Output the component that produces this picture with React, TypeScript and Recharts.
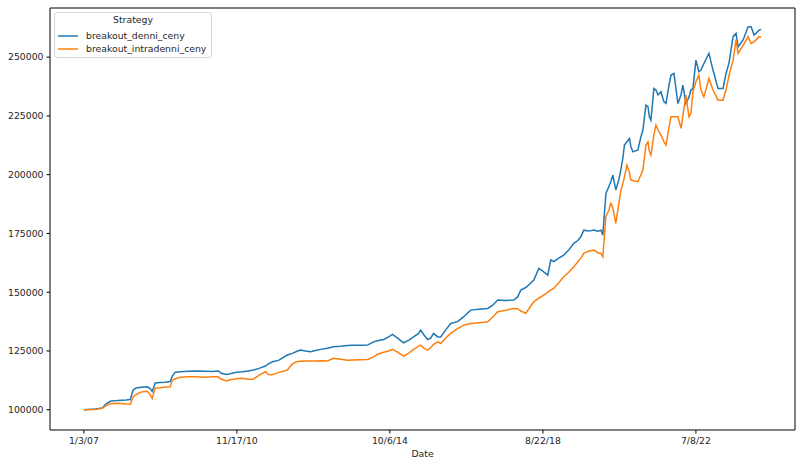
import React from "react";
import {
    LineChart,
    Line,
    XAxis,
    YAxis,
    ReferenceLine,
} from "recharts";

// trading-day index of each sampled row (row 0 = 1/3/07)
const dayIndex = [
    0, 72, 117, 142, 168, 219, 270, 296, 315, 334, 366, 404, 423, 436, 455, 487, 519, 551, 564, 583,
    615, 666, 711, 775, 819, 858, 877, 909, 934, 973, 1011, 1049, 1081, 1113, 1158, 1177, 1203, 1241, 1298, 1330,
    1356, 1381, 1413, 1445, 1477, 1509, 1554, 1592, 1637, 1682, 1714, 1765, 1809, 1848, 1873, 1912, 1944, 1969, 2001, 2039,
    2071, 2103, 2135, 2148, 2173, 2193, 2212, 2231, 2257, 2276, 2308, 2340, 2384, 2423, 2467, 2518, 2576, 2608, 2640, 2691,
    2742, 2767, 2787, 2819, 2844, 2870, 2902, 2927, 2959, 2978, 2997, 3029, 3061, 3093, 3125, 3151, 3170, 3189, 3221, 3253,
    3278, 3298, 3310, 3330, 3349, 3361, 3374, 3393, 3413, 3425, 3438, 3448, 3464, 3480, 3489, 3502, 3534, 3553, 3566, 3585,
    3598, 3607, 3617, 3636, 3649, 3662, 3681, 3700, 3713, 3732, 3745, 3764, 3789, 3809, 3821, 3840, 3860, 3872, 3885, 3904,
    3923, 3936, 3955, 3987, 4013, 4045, 4077, 4096, 4109, 4118, 4141, 4160, 4173, 4205, 4237, 4256, 4275, 4307, 4320,
];

const denniCeny = [
    100000, 100300, 100800, 102500, 103600, 104000, 104200, 104400, 108500, 109300, 109600, 109800, 109000, 107700, 111400, 111600, 111700, 112000, 114300, 116000,
    116200, 116400, 116500, 116400, 116300, 116500, 115500, 115000, 115300, 116000, 116200, 116500, 116900, 117500, 118600, 119500, 120400, 121000, 123300, 124000,
    124800, 125400, 125000, 124700, 125200, 125700, 126200, 126800, 127000, 127300, 127500, 127400, 127500, 128900, 129400, 129900, 131000, 132100, 130500, 128500,
    129500, 131000, 132500, 133900, 131500, 129900, 130500, 132500, 131000, 131000, 134000, 136700, 137500, 139600, 142400, 142800, 143100, 144500, 146700, 146500,
    146700, 148000, 150900, 152000, 153500, 155200, 160100, 159000, 157300, 163700, 163000, 164500, 165800, 168000, 170800, 172000, 173600, 176400, 176000, 176500,
    176000, 176400, 174300, 192000, 195000, 197000, 199800, 193500, 198000, 202000, 207000, 212600, 214000, 215400, 212000, 209700, 210500, 216100, 219000, 229600,
    228900, 224600, 223200, 236700, 236000, 233900, 235300, 231000, 230300, 238000, 242400, 243100, 230300, 234000, 238100, 230300, 233000, 236000, 236700, 248700,
    243800, 244500, 247300, 251600, 244500, 236700, 236700, 243100, 246000, 248700, 258700, 260100, 254400, 257300, 262900, 262900, 259400, 261500, 261800,
];

const intradenniCeny = [
    100000, 100100, 100600, 101800, 102600, 102800, 102500, 102400, 105500, 106500, 107600, 107900, 106500, 104800, 109200, 109400, 109700, 109800, 112500, 113200,
    113800, 114000, 114100, 113800, 114000, 114000, 113000, 112300, 112800, 113200, 113400, 113000, 113000, 114500, 116200, 115000, 114900, 115800, 116900, 119500,
    120400, 120600, 120800, 120700, 120800, 120900, 120800, 121900, 121500, 121100, 121200, 121300, 121400, 122500, 123600, 124500, 125000, 125700, 124500, 122800,
    124000, 125700, 127000, 127500, 126000, 125400, 126500, 127800, 128900, 128200, 130500, 132500, 134500, 136000, 136700, 137000, 137400, 139500, 141700, 142300,
    143100, 143000, 142000, 141000, 143500, 145900, 147500, 148500, 150000, 150900, 151600, 154000, 156600, 158500, 160800, 163000, 164500, 166500, 167500, 167900,
    166800, 166500, 165100, 182100, 185000, 187800, 186000, 179300, 188000, 193000, 196300, 199000, 204100, 201000, 197700, 197500, 197000, 200000, 202000, 212600,
    214000, 210000, 208300, 217000, 221100, 219000, 216800, 214000, 212600, 220000, 224600, 224600, 224600, 219700, 225000, 233900, 224600, 226100, 235300, 239500,
    242400, 236000, 233100, 240900, 236000, 231700, 231700, 236000, 240200, 243000, 248700, 257300, 251600, 255000, 258700, 255800, 256500, 258700, 258500,
];

const tickIndex = [0, 976, 1952, 2928, 3904];
const tickLabels = ["1/3/07", "11/17/10", "10/6/14", "8/22/18", "7/8/22"];
const yTicks = [100000, 125000, 150000, 175000, 200000, 225000, 250000];

const seriesNames = ["breakout_denni_ceny", "breakout_intradenni_ceny"];
const seriesColors = ["#1f77b4", "#ff7f0e"];

const data = dayIndex.map((d, i) => ({
    idx: d,
    denni: denniCeny[i],
    intradenni: intradenniCeny[i],
}));

const FONT = "'DejaVu Sans', sans-serif";
const X_DOMAIN = [-216, 4536];
const Y_DOMAIN = [91400, 270900];

// matplotlib-style legend box with a title, laid over the plot
const LegendBox = () => (
    <div
        style={{
            position: "absolute",
            left: 54,
            top: 12,
            width: 158,
            height: 46,
            border: "1px solid #d6d6d6",
            borderRadius: 3,
            background: "rgba(255,255,255,0.8)",
            fontFamily: FONT,
            fontSize: 9.3,
            color: "#262626",
            boxSizing: "border-box",
        }}
    >
        <div style={{ position: "absolute", top: 1, width: "100%", textAlign: "center", lineHeight: "12px" }}>
            Strategy
        </div>
        {seriesNames.map((name, i) => (
            <div
                key={name}
                style={{
                    position: "absolute",
                    left: 3,
                    top: 17 + i * 12.7,
                    height: 12,
                    lineHeight: "12px",
                    display: "flex",
                    alignItems: "center",
                    whiteSpace: "nowrap",
                }}
            >
                <svg width={20} height={4} style={{ marginRight: 8 }}>
                    <line x1={0} y1={2} x2={20} y2={2} stroke={seriesColors[i]} strokeWidth={1.5} />
                </svg>
                <span>{name}</span>
            </div>
        ))}
    </div>
);

export default function App() {
    return (
        <div style={{ position: "absolute", left: 0, top: 0, width: 800, height: 466, background: "#fff" }}>
            <LineChart
                width={800}
                height={466}
                data={data}
                margin={{ top: 8, right: 5, bottom: 0, left: 0 }}
            >
                <XAxis
                    type="number"
                    dataKey="idx"
                    domain={X_DOMAIN}
                    ticks={tickIndex}
                    tickFormatter={(v: number) => tickLabels[tickIndex.indexOf(v)] ?? ""}
                    height={36}
                    tickSize={3.5}
                    tickMargin={4}
                    stroke="#000"
                    tick={{ fill: "#262626", fontSize: 9.3, fontFamily: FONT }}
                    allowDataOverflow
                    label={{
                        value: "Date",
                        position: "insideBottom",
                        offset: 9,
                        fill: "#262626",
                        fontSize: 9.3,
                        fontFamily: FONT,
                    }}
                />
                <YAxis
                    type="number"
                    domain={Y_DOMAIN}
                    ticks={yTicks}
                    width={50}
                    tickSize={3.5}
                    tickMargin={3}
                    stroke="#000"
                    tick={{ fill: "#262626", fontSize: 9.3, fontFamily: FONT }}
                    allowDataOverflow
                />
                {/* close the box like matplotlib's top/right spines */}
                <ReferenceLine y={Y_DOMAIN[1]} stroke="#000" />
                <ReferenceLine x={X_DOMAIN[1]} stroke="#000" />
                <Line
                    type="linear"
                    dataKey="denni"
                    stroke={seriesColors[0]}
                    strokeWidth={1.5}
                    dot={false}
                    isAnimationActive={false}
                />
                <Line
                    type="linear"
                    dataKey="intradenni"
                    stroke={seriesColors[1]}
                    strokeWidth={1.5}
                    dot={false}
                    isAnimationActive={false}
                />
            </LineChart>
            <LegendBox />
        </div>
    );
}
